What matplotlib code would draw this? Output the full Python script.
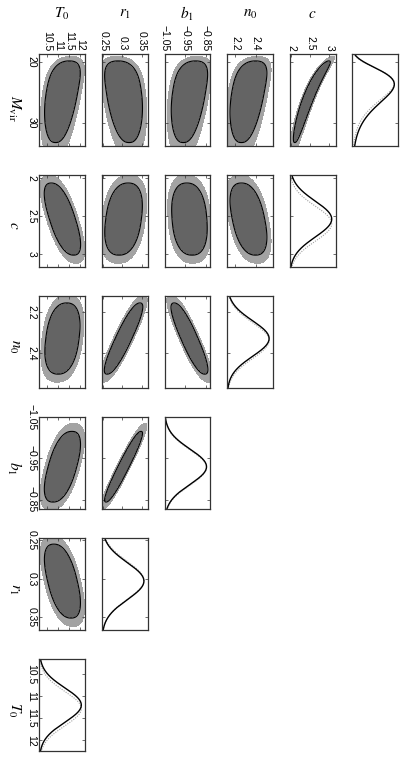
import numpy as np
import matplotlib
matplotlib.use("Agg")
import matplotlib.pyplot as plt

plt.rcParams['mathtext.fontset'] = 'stix'
plt.rcParams['font.family'] = ['Liberation Sans', 'DejaVu Sans']

# ---------------- data ----------------
# parameter order: M_vir, c, n0, b1, r1, T0
param_labels = [r'$M_{\rm vir}$', r'$c$', r'$n_0$', r'$b_1$', r'$r_1$', r'$T_0$']
axis_lo = [18.6, 1.96, 2.12, -1.052, 0.2465, 10.15]
axis_hi = [33.8, 3.16, 2.57, -0.828, 0.366, 12.23]
tick_values = [[20, 30], [2, 2.5, 3], [2.2, 2.4], [-1.05, -0.95, -0.85],
               [0.25, 0.3, 0.35], [10.5, 11, 11.5, 12]]
tick_labels = [['20', '30'], ['2', '2.5', '3'], ['2.2', '2.4'],
               ['\u22121.05', '\u22120.95', '\u22120.85'],
               ['0.25', '0.3', '0.35'], ['10.5', '11', '11.5', '12']]
# posterior shape: Gaussian in log(p - offset) for M_vir, in p otherwise
log_offset = [14.0, None, None, None, None, None]
post_mean = [2.36, 2.54, 2.33, -0.93, 0.303, 11.2]
post_sd = [0.30, 0.235, 0.087, 0.043, 0.024, 0.39]
like_mean = [2.33, 2.60, 2.34, -0.928, 0.302, 11.28]
like_sd = [0.28, 0.23, 0.088, 0.043, 0.0245, 0.39]
corr = [[1.00, -0.95, -0.40, -0.35, 0.30, -0.40],
        [-0.95, 1.00, 0.40, 0.15, -0.25, 0.65],
        [-0.40, 0.40, 1.00, 0.87, -0.89, -0.25],
        [-0.35, 0.15, 0.87, 1.00, -0.95, -0.55],
        [0.30, -0.25, -0.89, -0.95, 1.00, 0.50],
        [-0.40, 0.65, -0.25, -0.55, 0.50, 1.00]]
chi2_levels = [4.0, 6.0]
shape_power = 2.4   # >2 gives the flatter-topped (boxier) contours

# ---------------- style / layout ----------------
W, H = 419, 771
col_left0, col_pitch, pw = 39.3, 62.6, 45.8
row_top0, row_pitch, ph = 53.6, 121.0, 92.0
dark, light = '#646464', '#a3a3a3'
frame_col = '#333333'

fig = plt.figure(figsize=(W / 100, H / 100), dpi=100)


def to_gauss(i, p):
    off = log_offset[i]
    if off is None:
        return p, np.ones_like(p)
    return np.log(p - off), 1.0 / (p - off)


def add_panel(r, c):
    x = col_left0 + c * col_pitch
    y = row_top0 + r * row_pitch
    return fig.add_axes([x / W, 1 - (y + ph) / H, pw / W, ph / H])


def style(ax):
    for s in ax.spines.values():
        s.set_color(frame_col)
        s.set_linewidth(0.9)


n = 6
for r in range(n):
    pi = r  # row parameter
    for c in range(n - r):
        ax = add_panel(r, c)
        style(ax)
        pk = 5 - c  # column parameter
        yy = np.linspace(axis_lo[pi], axis_hi[pi], 300)
        if c == n - 1 - r:
            # 1D marginal
            g, jac = to_gauss(pi, yy)
            d1 = np.exp(-0.5 * ((g - post_mean[pi]) / post_sd[pi]) ** 2) * jac
            d2 = np.exp(-0.5 * ((g - like_mean[pi]) / like_sd[pi]) ** 2) * jac
            ax.plot(d2 / d2.max(), yy, color='#a0a0a0', lw=0.8, ls=(0, (1, 1.2)))
            ax.plot(d1 / d1.max(), yy, color='black', lw=1.0)
            ax.set_xlim(0, 1.09)
            ax.set_xticks([])
        else:
            xx = np.linspace(axis_lo[pk], axis_hi[pk], 300)
            X, Y = np.meshgrid(xx, yy)
            gx, _ = to_gauss(pk, X)
            gy, _ = to_gauss(pi, Y)
            zx = (gx - post_mean[pk]) / post_sd[pk]
            zy = (gy - post_mean[pi]) / post_sd[pi]
            rho = corr[pi][pk]
            b = zy
            a = (zx - rho * zy) / np.sqrt(1 - rho ** 2)
            q = shape_power
            dist = (np.abs(a) ** q + np.abs(b) ** q) ** (2.0 / q)
            ax.contourf(X, Y, dist, levels=[-1, chi2_levels[0], chi2_levels[1]],
                        colors=[dark, light])
            ax.contour(X, Y, dist, levels=[chi2_levels[0]], colors='black',
                       linewidths=0.8)
            ax.set_xlim(axis_lo[pk], axis_hi[pk])
            ax.set_xticks(tick_values[pk])
            if r == 0:
                ax.xaxis.tick_top()
                ax.set_xticklabels(tick_labels[pk], rotation=270, fontsize=7.5)
            else:
                ax.set_xticklabels([])
        ax.set_ylim(axis_hi[pi], axis_lo[pi])
        ax.set_yticks(tick_values[pi])
        if c == 0:
            ax.set_yticklabels(tick_labels[pi], rotation=270, fontsize=7.5,
                               va='center')
        else:
            ax.set_yticklabels([])
        ax.tick_params(which='both', direction='in', length=2.2, width=0.5,
                       color=frame_col, top=True, bottom=True, left=True,
                       right=True, pad=2, labelsize=7.5)
        if r == 0:
            ax.tick_params(axis='x', labeltop=True, labelbottom=False)

# column titles
for c in range(5):
    pk = 5 - c
    xc = col_left0 + c * col_pitch + pw / 2
    fig.text(xc / W, 1 - 14 / H, param_labels[pk], ha='center', va='center',
             fontsize=11)

# row labels
for r in range(6):
    yc = row_top0 + r * row_pitch + ph / 2 + (9 if r == 0 else 5)
    fig.text(14 / W, 1 - yc / H, param_labels[r], ha='center', va='center',
             rotation=270, fontsize=11)

fig.savefig('out.png', dpi=100)
